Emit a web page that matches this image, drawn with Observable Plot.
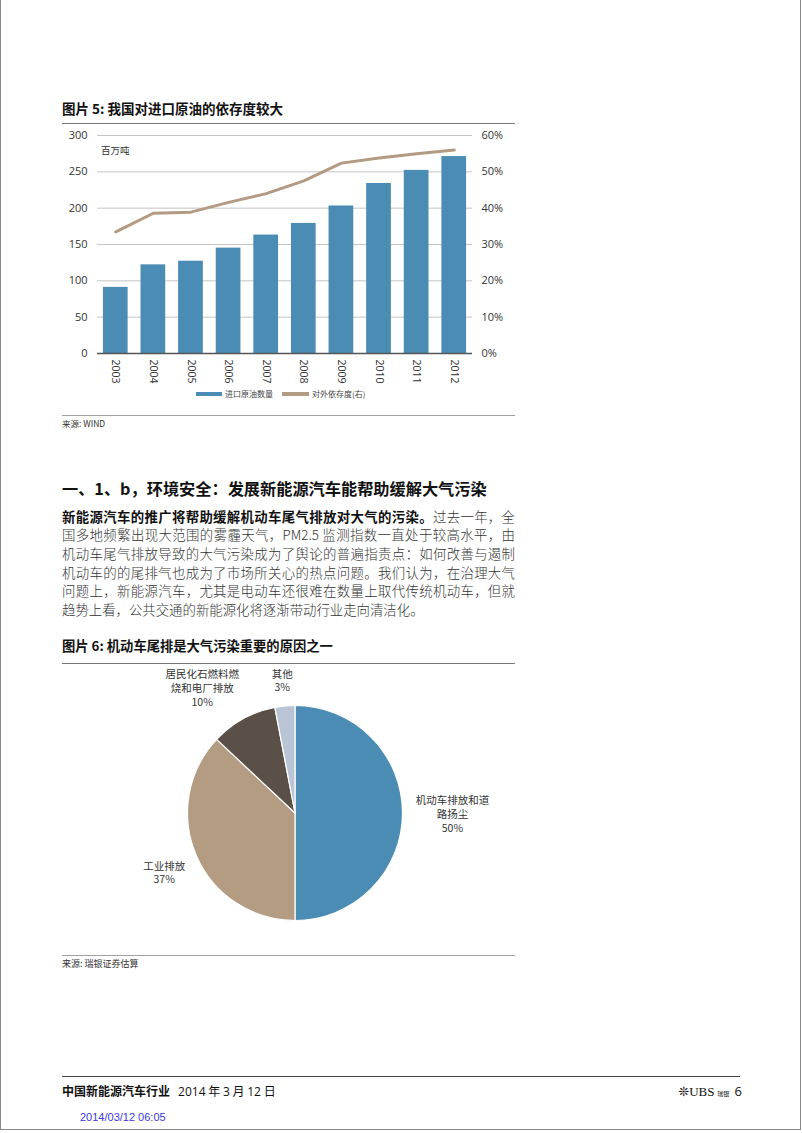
<!DOCTYPE html>
<html><head><meta charset="utf-8">
<script src="https://cdn.jsdelivr.net/npm/d3@7"></script>
<script src="https://cdn.jsdelivr.net/npm/@observablehq/plot@0.6"></script>
<style>
body{margin:0;background:#fff;}
#page{position:relative;width:802px;height:1133px;overflow:hidden;background:#fff;font-family:"Noto Sans CJK SC","Noto Sans",sans-serif;color:#222;}
#frame{position:absolute;left:0;top:-2px;width:799px;height:1131px;border-left:1px solid #8a8a8a;border-right:1px solid #8a8a8a;border-bottom:1px solid #8a8a8a;}
.a{position:absolute;white-space:nowrap;}
.rule{position:absolute;}
.body{position:absolute;left:62px;width:453px;font-size:13.4px;line-height:18.6px;color:#333;font-weight:300;text-align:justify;text-align-last:justify;}
.body.last{text-align-last:left;}
.svgbox{position:absolute;}
</style></head><body><div id="page">
<div id="frame"></div>

<div class="a" style="left:62px;top:99.5px;font-size:13.5px;line-height:16px;font-weight:700;color:#111;">图片 5: 我国对进口原油的依存度较大</div>
<div class="rule" style="left:62px;top:123px;width:453px;height:1px;background:#777;"></div>
<div id="chart1" class="svgbox" style="left:55px;top:125px;"></div>
<div class="a" style="left:101px;top:144px;font-size:9.5px;line-height:12px;color:#333;">百万吨</div>
<div id="legend1"></div>
<div class="rule" style="left:62px;top:414.5px;width:453px;height:1.5px;background:#a0a0a0;"></div>
<div class="a" style="left:62px;top:417px;font-size:8.5px;line-height:12px;color:#333;">来源: WIND</div>

<div class="a" style="left:62px;top:477px;font-size:16.2px;line-height:22px;font-weight:700;color:#111;">一、1、b，环境安全：发展新能源汽车能帮助缓解大气污染</div>
<div class="body" style="top:506.7px;"><b style="font-weight:700;color:#111;">新能源汽车的推广将帮助缓解机动车尾气排放对大气的污染。</b>过去一年，全</div>
<div class="body" style="top:525.3px;">国多地频繁出现大范围的雾霾天气，PM2.5 监测指数一直处于较高水平，由</div>
<div class="body" style="top:543.9px;">机动车尾气排放导致的大气污染成为了舆论的普遍指责点：如何改善与遏制</div>
<div class="body" style="top:562.5px;">机动车的的尾排气也成为了市场所关心的热点问题。我们认为，在治理大气</div>
<div class="body" style="top:581.1px;">问题上，新能源汽车，尤其是电动车还很难在数量上取代传统机动车，但就</div>
<div class="body last" style="top:599.7px;">趋势上看，公共交通的新能源化将逐渐带动行业走向清洁化。</div>

<div class="a" style="left:62px;top:637.5px;font-size:13.3px;line-height:16px;font-weight:700;color:#111;">图片 6: 机动车尾排是大气污染重要的原因之一</div>
<div class="rule" style="left:62px;top:663px;width:453px;height:1px;background:#777;"></div>
<div id="chart2" class="svgbox" style="left:55px;top:668px;"></div>
<div class="rule" style="left:62px;top:954.5px;width:453px;height:1.5px;background:#a0a0a0;"></div>
<div class="a" style="left:62px;top:958px;font-size:9px;line-height:12px;color:#333;">来源: 瑞银证券估算</div>

<div class="rule" style="left:62px;top:1075.5px;width:678px;height:1.5px;background:#444;"></div>
<div class="a" style="left:62px;top:1083px;font-size:12px;line-height:16px;color:#111;"><b>中国新能源汽车行业</b>&nbsp;&nbsp;&nbsp;<span style="font-family:'Open Sans',sans-serif;">2014</span> 年 <span style="font-family:'Open Sans',sans-serif;">3</span> 月 <span style="font-family:'Open Sans',sans-serif;">12</span> 日</div>
<div class="a" style="right:60px;top:1082px;font-size:12px;line-height:18px;color:#111;"><span style="font-family:'DejaVu Sans';font-size:13px;">❊</span><span style="font-family:'Liberation Serif',serif;font-size:13px;">UBS</span> <span style="font-size:6px;">瑞银</span>&nbsp; <span style="font-family:'Open Sans',sans-serif;font-size:13px;">6</span></div>
<div class="a" style="left:80px;top:1110px;font-family:'Liberation Sans',Arial,sans-serif;font-size:11px;line-height:14px;color:#3a3adf;">2014/03/12 06:05</div>
</div>
<script>
// ---- Chart 5 data ----
const years = ["2003","2004","2005","2006","2007","2008","2009","2010","2011","2012"];
const importVolume = [91, 122, 127, 145, 163, 179, 203, 234, 252, 271]; // 百万吨
const dependency = [33.5, 38.6, 38.9, 41.6, 44.0, 47.5, 52.4, 53.8, 55.0, 56.0]; // %
const leftTicks = [0, 50, 100, 150, 200, 250, 300];
const rightTicks = [0, 10, 20, 30, 40, 50, 60];
const seriesNames = ["进口原油数量", "对外依存度(右)"];

// ---- Chart 6 data ----
const pieLabels = ["机动车排放和道\n路扬尘", "工业排放", "居民化石燃料燃\n烧和电厂排放", "其他"];
const pieShares = [50, 37, 10, 3];

const BLUE = "#4a8cb4", TAN = "#b39a82";
const pieColors = ["#4a8cb4", "#b49c83", "#5a5047", "#b9c5d5"];

// ---------- Chart 5 ----------
const rows = years.map((year, i) => ({year, volume: importVolume[i], dep: dependency[i]}));
const ratio = leftTicks[leftTicks.length - 1] / rightTicks[rightTicks.length - 1];
const chart1 = Plot.plot({
  width: 470, height: 265,
  marginTop: 10, marginBottom: 37, marginLeft: 42, marginRight: 53,
  style: {fontFamily: "'Open Sans', sans-serif", fontSize: "11px", color: "#333", background: "transparent", overflow: "visible"},
  x: {type: "band", domain: years, paddingInner: 0.343, paddingOuter: 0.157, round: false, label: null},
  y: {domain: [0, 300], label: null},
  marks: [
    Plot.gridY(leftTicks.slice(1), {stroke: "#c4c4c4", strokeOpacity: 1}),
    Plot.barY(rows, {x: "year", y: "volume", fill: BLUE}),
    Plot.ruleY([0], {stroke: "#555", strokeWidth: 1.6}),
    Plot.lineY(rows, {x: "year", y: d => d.dep * ratio, stroke: TAN, strokeWidth: 3}),
    Plot.axisY(leftTicks, {anchor: "left", tickSize: 0, tickPadding: 10, label: null}),
    Plot.axisY(rightTicks.map(v => v * ratio), {anchor: "right", tickSize: 0, tickPadding: 9, label: null, tickFormat: d => (d / ratio) + "%"}),
    Plot.axisX({tickRotate: 90, tickSize: 0, tickPadding: 6, label: null, fontSize: 10.5})
  ]
});
document.getElementById("chart1").appendChild(chart1);

// legend (HTML)
const lg = document.getElementById("legend1");
lg.innerHTML =
  `<div class="rule" style="left:196px;top:392.3px;width:26px;height:3.5px;background:${BLUE};"></div>` +
  `<div class="a" style="left:225px;top:388px;font-size:8px;line-height:12px;color:#444;">${seriesNames[0]}</div>` +
  `<div class="rule" style="left:282px;top:392.3px;width:27px;height:3.5px;background:${TAN};"></div>` +
  `<div class="a" style="left:312px;top:388px;font-size:8px;line-height:12px;color:#444;">${seriesNames[1]}</div>`;

// ---------- Chart 6 (pie) ----------
const W2 = 460, H2 = 280, R = 107.5, CX = 240, CY = 145;
const pieRows = pieLabels.map((label, i) => ({label, share: pieShares[i], i}));
const arcs = d3.pie().sort(null).value(d => d.share)(pieRows);
const fs = 10.5, lh = 1.3;
const labelRows = arcs.map(a => {
  const text = a.data.label + "\n" + a.data.share + "%";
  const lines = text.split("\n");
  const w = Math.max(...lines.map(s => [...s].reduce((acc, c) => acc + (/[\u3000-\u9fff]/.test(c) ? 1 : 0.6), 0))) * fs;
  const h = lines.length * fs * lh;
  const th = (a.startAngle + a.endAngle) / 2;
  const s = Math.sin(th), c = Math.cos(th);
  const clamp = v => Math.max(-1, Math.min(1, v));
  const anchorR = 1.118;
  return {
    text,
    x: anchorR * s + (w / 2) * clamp(2 * s) / R,
    y: anchorR * c + (h / 2) * clamp(2 * c) / R
  };
});
function pieMark(index, scales) {
  const cx = scales.x(0), cy = scales.y(0);
  const r = scales.x(1) - scales.x(0);
  const arc = d3.arc().innerRadius(0).outerRadius(r);
  const g = d3.create("svg:g").attr("transform", `translate(${cx},${cy})`);
  g.selectAll("path").data(arcs).join("path")
    .attr("d", arc)
    .attr("fill", d => pieColors[d.index])
    .attr("stroke", "#fff").attr("stroke-width", 1.2).attr("stroke-linejoin", "round");
  return g.node();
}
const chart2 = Plot.plot({
  width: W2, height: H2, margin: 0,
  style: {fontFamily: "'Noto Sans CJK SC', sans-serif", background: "transparent", overflow: "visible"},
  x: {domain: [-CX / R, (W2 - CX) / R], axis: null},
  y: {domain: [-(H2 - CY) / R, CY / R], axis: null},
  marks: [
    pieMark,
    Plot.text(labelRows, {x: "x", y: "y", text: "text", textAnchor: "middle", lineAnchor: "middle", lineHeight: lh, fontSize: fs, fill: "#333"})
  ]
});
document.getElementById("chart2").appendChild(chart2);
</script>
</body></html>
